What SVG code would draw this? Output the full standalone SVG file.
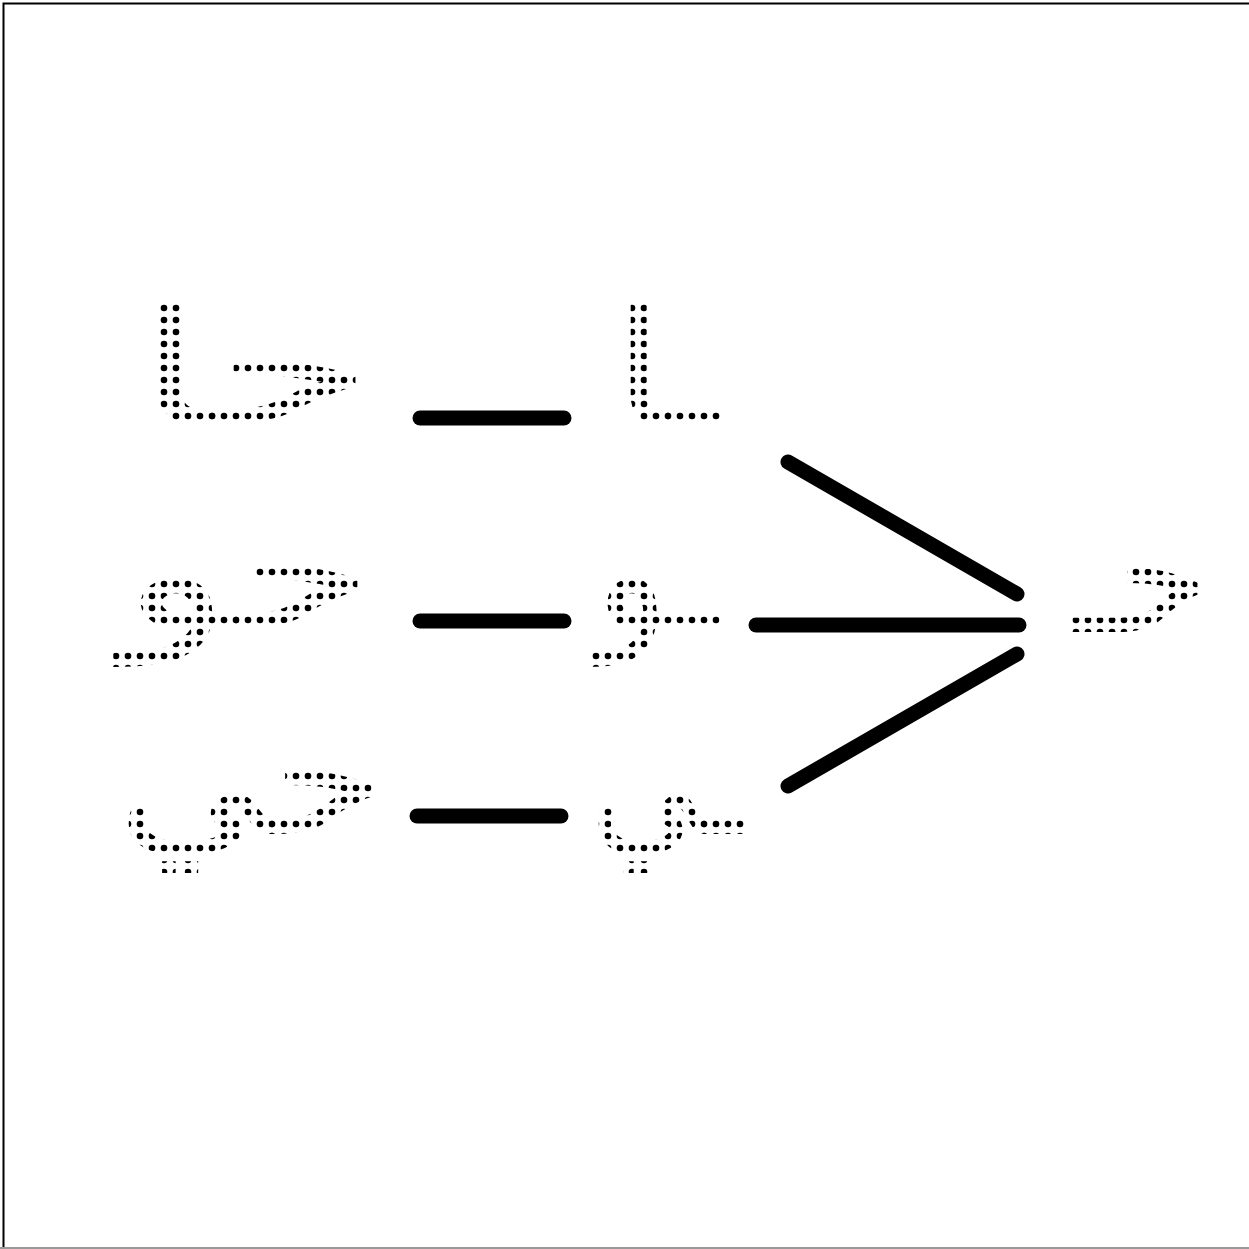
<svg xmlns="http://www.w3.org/2000/svg" width="1249" height="1249" viewBox="0 0 1249 1249">
<defs>
<pattern id="dots" width="12" height="12" patternUnits="userSpaceOnUse" x="2" y="2">
<circle cx="6" cy="6" r="3.3" fill="#000"/>
</pattern>
<style>
.l{font-family:"DejaVu Sans",sans-serif;font-size:160px;fill:url(#dots);text-anchor:middle;direction:rtl}
.c{stroke:#000;stroke-width:15;stroke-linecap:round;fill:none}
</style>
</defs>
<rect width="1249" height="1249" fill="#fff"/>
<path d="M3.5 1249V3.5H1249" fill="none" stroke="#000" stroke-width="2"/>
<path d="M0 1248H1249" stroke="#999" stroke-width="2"/>
<g id="connectors">
<line class="c" x1="420" y1="418" x2="564" y2="418"/>
<line class="c" x1="420" y1="621" x2="564" y2="621"/>
<line class="c" x1="417" y1="816" x2="561" y2="816"/>
<line class="c" x1="788" y1="462" x2="1017" y2="594"/>
<line class="c" x1="756" y1="625" x2="1019" y2="625"/>
<line class="c" x1="788" y1="786" x2="1017" y2="654"/>
</g>
<g id="n1"><text class="l" x="254.5" y="424" textLength="240" lengthAdjust="spacingAndGlyphs">حا</text></g>
<g id="n2"><text class="l" x="667" y="424" textLength="106" lengthAdjust="spacingAndGlyphs">ـا</text></g>
<g id="n3"><text class="l" x="248" y="628" textLength="251" lengthAdjust="spacingAndGlyphs">حو</text></g>
<g id="n4"><text class="l" x="656.5" y="628" textLength="123" lengthAdjust="spacingAndGlyphs">ـو</text></g>
<g id="n5"><text class="l" x="251" y="834" textLength="268" lengthAdjust="spacingAndGlyphs">حي</text></g>
<g id="n6"><text class="l" x="667.5" y="834" textLength="155" lengthAdjust="spacingAndGlyphs">ـي</text></g>
<g id="n7"><text class="l" x="1140" y="632" textLength="137" lengthAdjust="spacingAndGlyphs">حـ</text></g>
</svg>
